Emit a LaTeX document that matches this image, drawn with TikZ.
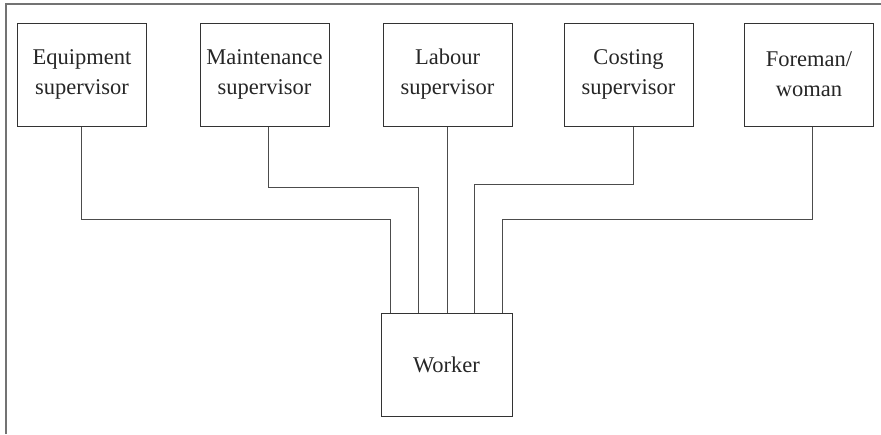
\documentclass[tikz,border=0pt]{standalone}
\usepackage{fontspec}
\setmainfont{LiberationSerif}[Extension=.ttf,UprightFont=*-Regular,BoldFont=*-Bold]
\begin{document}
\begin{tikzpicture}[x=1pt,y=-1pt,
  role/.style={draw=black!80,line width=1pt,minimum width=129pt,minimum height=103pt,
    inner sep=0pt,align=center,font=\rmfamily\fontsize{22.5}{30}\selectfont,text=black!85},
  link/.style={draw=black!70,line width=1pt}]
  \useasboundingbox (0,0) rectangle (881,434);
  % frame
  \draw[black!55,line width=2pt] (5.5,434) -- (5.5,3.5) -- (881,3.5);
  % supervisors
  \node[role] (eq) at (82,74.5) {Equipment\\supervisor};
  \node[role] (mt) at (264.5,74.5) {Maintenance\\supervisor};
  \node[role] (lb) at (447.5,74.5) {Labour\\supervisor};
  \node[role] (cs) at (628.5,74.5) {Costing\\supervisor};
  \node[role] (fm) at (809,74.5) {Foreman/\\woman};
  % worker
  \node[role,minimum width=131pt] (wk) at (446.5,364.5) {Worker};
  % connectors
  \draw[link] (eq.south -| 81,0) |- (390,219) -- (wk.north -| 390,0);
  \draw[link] (mt.south -| 268,0) |- (418,187) -- (wk.north -| 418,0);
  \draw[link] (lb.south -| 447,0) -- (wk.north -| 447,0);
  \draw[link] (cs.south -| 633,0) |- (474,184) -- (wk.north -| 474,0);
  \draw[link] (fm.south -| 812,0) |- (502,219) -- (wk.north -| 502,0);
\end{tikzpicture}
\end{document}
